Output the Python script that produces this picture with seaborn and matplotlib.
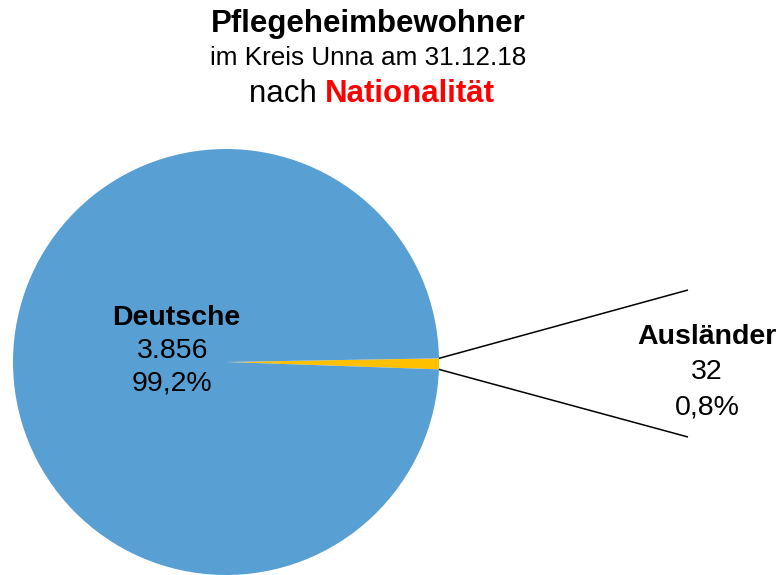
import numpy as np
import matplotlib
matplotlib.use("Agg")
import matplotlib.pyplot as plt
import seaborn as sns

# Residents of care homes by nationality
categories = ["Ausländer", "Deutsche"]
counts = [32, 3856]
count_labels = ["32", "3.856"]
colors = ["#FFC000", "#58A0D4"]

sns.set_theme(style="white")
plt.rcParams["font.family"] = ["Liberation Sans", "DejaVu Sans"]
plt.rcParams["text.color"] = "black"

W, H = 781, 575
fig = plt.figure(figsize=(W / 100, H / 100), dpi=100)
ax = fig.add_axes([0, 0, 1, 1])

cx, cy, r = 226, H - 362, 213
total = sum(counts)
small_span = counts[0] / total * 360
start = -0.5 - small_span / 2

ax.pie(counts, colors=colors, startangle=start, counterclock=True,
       center=(cx, cy), radius=r, frame=True,
       wedgeprops=dict(linewidth=0))
ax.set_xlim(0, W)
ax.set_ylim(0, H)
ax.set_aspect("equal")
ax.axis("off")

# connector lines from the small slice edges
for ang, end_y in [(start + small_span, H - 290), (start, H - 437)]:
    a = np.deg2rad(ang)
    x0, y0 = cx + r * np.cos(a), cy + r * np.sin(a)
    ax.plot([x0, 688], [y0, end_y], color="black", lw=1.1, solid_capstyle="butt")

pct = [f"{c / total * 100:.1f}%".replace(".", ",") for c in counts]
fs = 20.5

# Deutsche label
ax.text(176, H - 318, categories[1], ha="center", va="center", fontsize=fs, fontweight="bold")
ax.text(173, H - 351, count_labels[1], ha="center", va="center", fontsize=fs)
ax.text(172, H - 384, pct[1], ha="center", va="center", fontsize=fs)

# Ausländer label
ax.text(707, H - 337, categories[0], ha="center", va="center", fontsize=fs, fontweight="bold")
ax.text(707, H - 372, count_labels[0], ha="center", va="center", fontsize=fs)
ax.text(707, H - 407, pct[0], ha="center", va="center", fontsize=fs)

# title block
fig.text(368 / W, 1 - 24 / H, "Pflegeheimbewohner", ha="center", va="center",
         fontsize=22.5, fontweight="bold")
fig.text(368 / W, 1 - 58 / H, "im Kreis Unna am 31.12.18", ha="center", va="center",
         fontsize=18.8)
t1 = fig.text(0, 1 - 94 / H, "nach ", ha="left", va="center", fontsize=22.5)
t2 = fig.text(0, 1 - 94 / H, "Nationalität", ha="left", va="center", fontsize=22.5,
              fontweight="bold", color="#FF0000")
fig.canvas.draw()
rend = fig.canvas.get_renderer()
w1 = t1.get_window_extent(rend).width
w2 = t2.get_window_extent(rend).width
x_left = 372 - (w1 + w2) / 2
t1.set_x(x_left / W)
t2.set_x((x_left + w1) / W)

fig.savefig("out.png", dpi=100)
